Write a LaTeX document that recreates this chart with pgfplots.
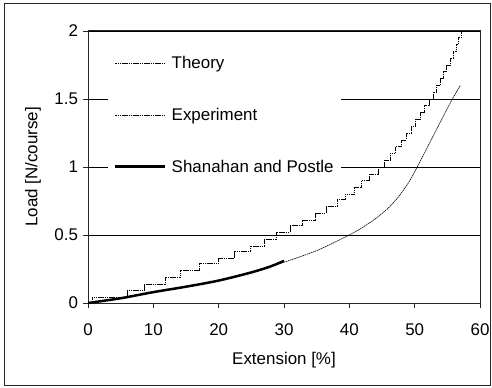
\documentclass[border=0pt]{standalone}
\usepackage{pgfplots}
\pgfplotsset{compat=1.18}
\usepackage{fontspec}
\setmainfont{Liberation Sans}
\begin{document}
\begin{tikzpicture}[x=1bp,y=1bp]
\useasboundingbox (0,0) rectangle (492,387);
\draw[line width=1bp, black!85] (4,2) rectangle (490,383);
\begin{axis}[
  at={(88bp,84bp)}, anchor=south west,
  width=392bp, height=272bp, scale only axis,
  xmin=0, xmax=60, ymin=0, ymax=2,
  xtick={0,10,...,60}, ytick={0,0.5,1,1.5,2},
  xtick pos=left, ytick pos=left,
  tick align=outside, major tick length=5bp,
  ymajorgrids, grid style={black, line width=0.8bp},
  axis line style={black!85, line width=1bp},
  tick style={black!85, line width=0.8bp},
  /pgf/number format/assume math mode=true,
  tick label style={font=\fontsize{17}{20}\selectfont},
  xticklabel style={yshift=-12bp},
  yticklabel style={xshift=-1.5bp},
  label style={font=\fontsize{17}{20}\selectfont},
  xlabel={Extension [\%]}, ylabel={Load [N/course]},
  xlabel style={at={(axis description cs:0.5,-0.2096)}, anchor=center},
  ylabel style={at={(axis description cs:-0.1403,0.5)}, anchor=center},
  legend cell align=left,
  legend image code/.code={\draw[#1] (0bp,0bp) -- (50bp,0bp);},
  legend style={at={(0,1)}, anchor=north west, xshift=20bp, yshift=-20bp,
    fill=white, draw=none, inner xsep=6bp, inner ysep=4bp,
    row sep=36bp, column sep=4bp,
    font=\fontsize{17}{20}\selectfont,
    nodes={inner sep=1bp}},
]
\addplot[black, line width=0.6bp, dash pattern=on 1.6bp off 0.6bp, smooth, tension=0.4] coordinates {
(0,0) (5,0.035) (10,0.08) (15,0.12) (20,0.165) (25,0.225) (30,0.30) (35,0.385) (40,0.50) (42,0.555) (44,0.62) (46,0.70) (47.5,0.78) (49,0.88) (50.4,1.0) (52,1.15) (53.5,1.29) (55,1.43) (56,1.52) (57,1.60)
};
\addlegendentry{Theory}
\addplot[black, line width=0.6bp, dash pattern=on 1.6bp off 0.6bp, const plot] coordinates {
(0,0) (0.6,0.04) (6.0,0.09) (8.6,0.14) (11.8,0.19) (14.1,0.24) (17.1,0.29) (20.0,0.33) (22.4,0.38) (24.8,0.42) (27.0,0.47) (28.8,0.52) (30.9,0.57) (32.8,0.61) (34.8,0.66) (36.4,0.71) (38.1,0.76) (39.4,0.80) (40.8,0.85) (41.8,0.90) (43.1,0.95) (44.4,1.00) (45.35,1.05) (46.25,1.10) (47.10,1.15) (47.90,1.20) (48.68,1.25) (49.43,1.30) (50.15,1.35) (50.85,1.40) (51.53,1.45) (52.18,1.50) (52.78,1.55) (53.35,1.60) (53.89,1.65) (54.41,1.70) (54.91,1.75) (55.39,1.80) (55.85,1.85) (56.30,1.90) (56.74,1.95) (57.16,2.00) (57.5,2.00)
};
\addlegendentry{Experiment}
\addplot[black, line width=2.5bp, smooth] coordinates {
(0,0) (5,0.035) (10,0.08) (15,0.12) (20,0.165) (25,0.225) (28,0.27) (30,0.31)
};
\addlegendentry{Shanahan and Postle}
\end{axis}
\end{tikzpicture}
\end{document}
